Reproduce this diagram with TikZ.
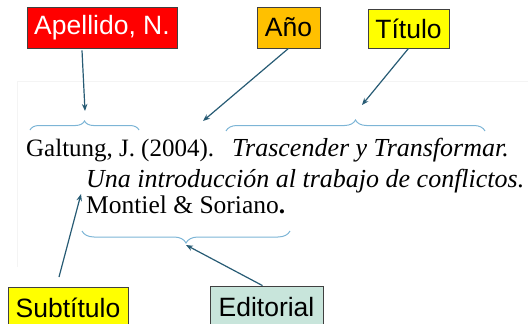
\documentclass[tikz,border=0pt]{standalone}
\usepackage{fontspec}
\setmainfont{Liberation Serif}
\newfontfamily\labelfont{Liberation Sans}
\usetikzlibrary{arrows.meta,decorations.pathreplacing}
\definecolor{boxred}{HTML}{FF0000}
\definecolor{boxorange}{HTML}{FFC000}
\definecolor{boxyellow}{HTML}{FFFF00}
\definecolor{boxteal}{HTML}{C8E5DB}
\definecolor{arrowcol}{HTML}{275B74}
\definecolor{bracecol}{HTML}{7DB5D6}
\definecolor{framecol}{HTML}{F4F4F4}
\tikzset{
  labelbox/.style={draw=black!75, line width=0.8pt, inner sep=0pt, font=\labelfont\fontsize{26.5}{26.5}\selectfont},
  arr/.style={draw=arrowcol, line width=1.2pt, -{Stealth[length=7pt,width=5.5pt]}},
  bracestyle/.style={draw=bracecol, line width=1pt, decorate},
  reftext/.style={anchor=base west, inner sep=0pt, font=\fontsize{25}{25}\selectfont},
  itext/.style={anchor=base west, inner sep=0pt, font=\fontsize{26}{26}\selectfont\itshape}
}
\begin{document}
\begin{tikzpicture}[x=1pt,y=-1pt]
\useasboundingbox (0,0) rectangle (528,324);
\draw[framecol, line width=0.6pt] (17,267) -- (17,81) -- (528,81);
% label boxes
\node[labelbox, fill=boxred, text=white, minimum width=150pt, minimum height=41pt] (ape) at (102,27.5) {Apellido, N.};
\node[labelbox, fill=boxorange, minimum width=63pt, minimum height=41pt] (ano) at (288.5,27.5) {Año};
\node[labelbox, fill=boxyellow, minimum width=81pt, minimum height=39pt] (tit) at (408.5,28.5) {Título};
\node[labelbox, fill=boxyellow, minimum width=120pt, minimum height=42pt] (sub) at (68,308) {Subtítulo};
\node[labelbox, fill=boxteal, minimum width=113pt, minimum height=42pt] (edi) at (266.5,307) {Editorial};
% reference text
\node[reftext] (l1a) at (26,156) {Galtung, J.};
\node[reftext] (l1b) at (141,156) {(2004).};
\node[itext] (l1c) at (232,156) {Trascender y Transformar.};
\node[itext] (l2) at (86,187) {Una introducción al trabajo de conflictos.};
\node[reftext, font=\fontsize{25.5}{25.5}\selectfont] (l3) at (86,213) {Montiel \& Soriano\textbf{.}};
% braces
\draw[bracestyle, decoration={brace, amplitude=9pt}] (30,130) -- (139,130) coordinate[pos=0.5] (b1);
\draw[bracestyle, decoration={brace, amplitude=11pt}] (226,131) -- (485,131) coordinate[pos=0.5] (b2);
\draw[bracestyle, decoration={brace, amplitude=12pt}] (290,231) -- (82,231) coordinate[pos=0.5] (b3);
% arrow targets
\coordinate (t1) at (85,111);
\coordinate (t2) at (203,121);
\coordinate (t3) at (362,105);
\coordinate (t4) at (81,194);
\coordinate (t5) at (186,245);
\coordinate (s4) at (59,277);
% arrows
\draw[arr] ([xshift=-20pt,yshift=-2pt]ape.south) -- (t1);
\draw[arr] (ano.south) -- (t2);
\draw[arr] (tit.south) -- (t3);
\draw[arr] (s4) -- (t4);
\draw[arr] ([xshift=-4pt]edi.north) -- (t5);
\end{tikzpicture}
\end{document}
